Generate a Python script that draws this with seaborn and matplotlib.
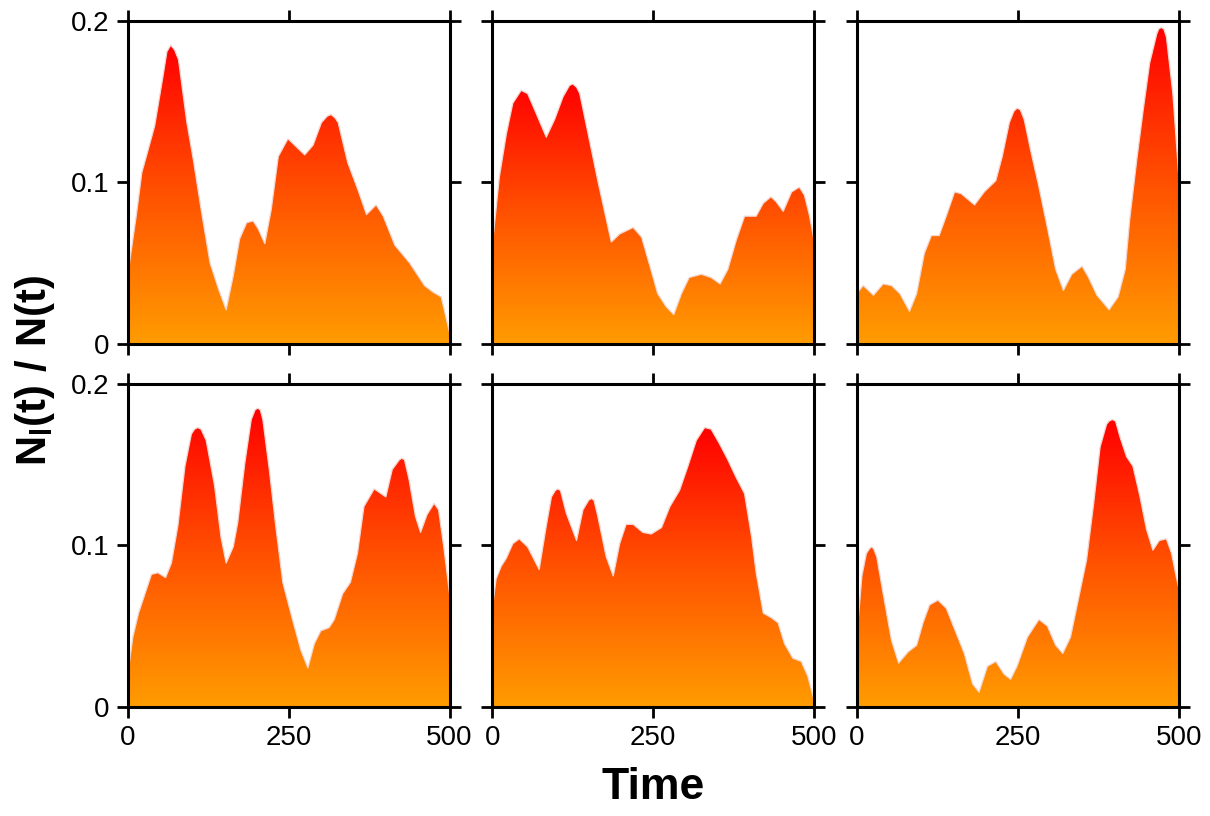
import numpy as np
import pandas as pd
import matplotlib
matplotlib.use("Agg")
import matplotlib.pyplot as plt
from matplotlib.colors import LinearSegmentedColormap
import seaborn as sns

sns.set_theme(style="white")
plt.rcParams["font.family"] = ["Liberation Sans", "DejaVu Sans"]
plt.rcParams["text.color"] = "black"
plt.rcParams["xtick.color"] = "black"
plt.rcParams["ytick.color"] = "black"
plt.rcParams["mathtext.fontset"] = "custom"
plt.rcParams["mathtext.rm"] = "Liberation Sans"
plt.rcParams["mathtext.bf"] = "Liberation Sans:bold"

# ---- data: fraction of population in lineage l over time, six runs ----
t1 = [0, 14, 22, 29, 42, 55, 61, 67, 73, 79, 92, 102, 115, 128, 141, 153, 164, 174, 185, 195, 203,
      213, 223, 234, 249, 262, 275, 288, 301, 310, 316, 322, 327, 342, 358, 371, 386, 397, 415,
      438, 461, 474, 487, 494, 500]
v1 = [0.042, 0.081, 0.106, 0.116, 0.135, 0.166, 0.181, 0.185, 0.182, 0.176, 0.137, 0.114, 0.081,
      0.050, 0.034, 0.021, 0.042, 0.065, 0.075, 0.076, 0.071, 0.062, 0.083, 0.116, 0.127, 0.122,
      0.117, 0.123, 0.137, 0.141, 0.142, 0.140, 0.137, 0.112, 0.095, 0.080, 0.086, 0.079, 0.061,
      0.050, 0.036, 0.032, 0.029, 0.017, 0.007]

t2 = [0, 11, 22, 32, 45, 55, 68, 84, 97, 110, 120, 125, 131, 136, 149, 164, 175, 185, 198, 219,
      232, 245, 257, 270, 282, 294, 306, 325, 340, 354, 366, 379, 392, 410, 421, 433, 441, 452,
      465, 477, 485, 493, 500]
v2 = [0.060, 0.103, 0.130, 0.149, 0.157, 0.155, 0.143, 0.128, 0.139, 0.153, 0.160, 0.161, 0.159,
      0.155, 0.130, 0.101, 0.081, 0.063, 0.068, 0.072, 0.066, 0.048, 0.031, 0.023, 0.018, 0.031,
      0.041, 0.043, 0.041, 0.037, 0.046, 0.064, 0.079, 0.079, 0.087, 0.091, 0.088, 0.082, 0.094,
      0.097, 0.092, 0.079, 0.064]

t3 = [0, 10, 26, 41, 54, 67, 82, 93, 105, 116, 128, 139, 152, 162, 183, 198, 216, 226, 237, 244,
      249, 254, 260, 270, 283, 296, 309, 321, 334, 350, 360, 373, 392, 406, 417, 424, 435, 445,
      455, 466, 469, 473, 477, 481, 491, 500]
v3 = [0.031, 0.036, 0.030, 0.037, 0.036, 0.031, 0.020, 0.031, 0.056, 0.067, 0.067, 0.079, 0.094,
      0.093, 0.086, 0.094, 0.101, 0.116, 0.137, 0.144, 0.146, 0.145, 0.139, 0.120, 0.097, 0.072,
      0.046, 0.033, 0.043, 0.048, 0.041, 0.030, 0.021, 0.029, 0.046, 0.077, 0.114, 0.145, 0.174,
      0.192, 0.195, 0.196, 0.195, 0.190, 0.155, 0.105]

t4 = [0, 8, 17, 27, 37, 47, 59, 68, 78, 89, 99, 104, 109, 114, 122, 135, 145, 153, 164, 171, 182,
      192, 198, 202, 206, 210, 220, 230, 241, 256, 269, 280, 290, 300, 313, 321, 334, 346, 357,
      367, 383, 401, 411, 422, 426, 430, 437, 447, 455, 465, 476, 483, 491, 500]
v4 = [0.019, 0.043, 0.058, 0.070, 0.082, 0.083, 0.080, 0.089, 0.112, 0.149, 0.169, 0.172, 0.173,
      0.172, 0.165, 0.137, 0.105, 0.089, 0.099, 0.114, 0.151, 0.178, 0.184, 0.185, 0.184, 0.178,
      0.147, 0.112, 0.077, 0.054, 0.035, 0.024, 0.039, 0.047, 0.049, 0.054, 0.070, 0.077, 0.095,
      0.124, 0.135, 0.130, 0.147, 0.153, 0.154, 0.153, 0.141, 0.118, 0.108, 0.119, 0.126, 0.122,
      0.099, 0.070]

t5 = [0, 6, 14, 22, 32, 42, 55, 73, 84, 92, 98, 102, 106, 115, 131, 141, 150, 154, 158, 164, 177,
      188, 198, 208, 219, 234, 247, 263, 276, 291, 304, 317, 330, 340, 353, 366, 379, 392, 403,
      410, 421, 434, 444, 454, 467, 480, 490, 500]
v5 = [0.060, 0.079, 0.087, 0.092, 0.101, 0.104, 0.099, 0.085, 0.112, 0.130, 0.134, 0.135, 0.134,
      0.120, 0.103, 0.122, 0.128, 0.129, 0.128, 0.118, 0.093, 0.081, 0.101, 0.113, 0.113, 0.108,
      0.107, 0.111, 0.124, 0.134, 0.149, 0.165, 0.173, 0.172, 0.163, 0.153, 0.142, 0.132, 0.105,
      0.083, 0.058, 0.055, 0.052, 0.039, 0.030, 0.028, 0.019, 0.004]

t6 = [0, 8, 15, 20, 23, 26, 31, 41, 54, 65, 80, 93, 103, 113, 126, 139, 154, 167, 180, 190, 203,
      216, 229, 239, 249, 265, 283, 296, 309, 320, 332, 344, 357, 368, 378, 388, 392, 397, 402,
      409, 419, 429, 440, 450, 460, 470, 481, 489, 496, 500]
v6 = [0.043, 0.081, 0.095, 0.098, 0.099, 0.098, 0.093, 0.070, 0.041, 0.027, 0.034, 0.038, 0.052,
      0.063, 0.066, 0.061, 0.046, 0.033, 0.014, 0.009, 0.025, 0.028, 0.020, 0.017, 0.025, 0.043,
      0.054, 0.050, 0.038, 0.033, 0.043, 0.066, 0.091, 0.126, 0.161, 0.175, 0.177, 0.178, 0.177,
      0.167, 0.155, 0.149, 0.130, 0.110, 0.097, 0.103, 0.104, 0.095, 0.081, 0.074]

series_t = [t1, t2, t3, t4, t5, t6]
series_v = [v1, v2, v3, v4, v5, v6]

x_ticks = [0, 250, 500]
x_tick_labels = ["0", "250", "500"]
y_ticks = [0, 0.1, 0.2]
y_tick_labels = ["0", "0.1", "0.2"]

# orange at zero rising to red at each panel's maximum
heat = LinearSegmentedColormap.from_list("heat", ["#FF9C00", "#FF5200", "#FF0000"])

fig, axes = plt.subplots(2, 3, figsize=(12.1, 8.16), dpi=100)
fig.subplots_adjust(left=0.1055, right=0.9741, top=0.9743, bottom=0.134,
                    wspace=0.1325, hspace=0.125)

grad = np.linspace(0, 1, 256).reshape(-1, 1)

for i, ax in enumerate(axes.flat):
    df = pd.DataFrame({"Time": series_t[i], "frac": series_v[i]})
    vmax = df["frac"].max()
    poly = ax.fill_between(df["Time"], 0, df["frac"], color="none", lw=0)
    img = ax.imshow(grad, cmap=heat, origin="lower", aspect="auto",
                    extent=[0, 500, 0, vmax], zorder=1, interpolation="bilinear")
    path = poly.get_paths()[0]
    img.set_clip_path(path, transform=ax.transData)
    sns.lineplot(data=df, x="Time", y="frac", ax=ax, color="#f3d6d0",
                 lw=0.9, zorder=2, legend=False)

    ax.set_xlim(0, 500)
    ax.set_ylim(0, 0.2)
    ax.set_xticks(x_ticks)
    ax.set_yticks(y_ticks)
    ax.set_xlabel("")
    ax.set_ylabel("")
    ax.tick_params(axis="both", which="both", direction="out", length=8, width=2.0,
                   color="black", top=True, right=True, bottom=True, left=True,
                   labelsize=20, pad=5, labelcolor="black")
    if i % 3 == 0:
        ax.set_yticklabels(y_tick_labels)
    else:
        ax.set_yticklabels([])
    if i >= 3:
        ax.set_xticklabels(x_tick_labels)
    else:
        ax.set_xticklabels([])
    for sp in ax.spines.values():
        sp.set_visible(True)
        sp.set_color("black")
        sp.set_linewidth(2.2)
    ax.set_facecolor("white")

fig.text(0.5397, 0.010, "Time", ha="center", va="bottom", fontsize=32, fontweight="bold",
         color="black")
fig.text(0.029, 0.546, r"$\mathbf{N_{l}(t)\ /\ N(t)}$", rotation=90, ha="center",
         va="center", fontsize=30, color="black")

fig.savefig("out.png", dpi=100, facecolor="white")
